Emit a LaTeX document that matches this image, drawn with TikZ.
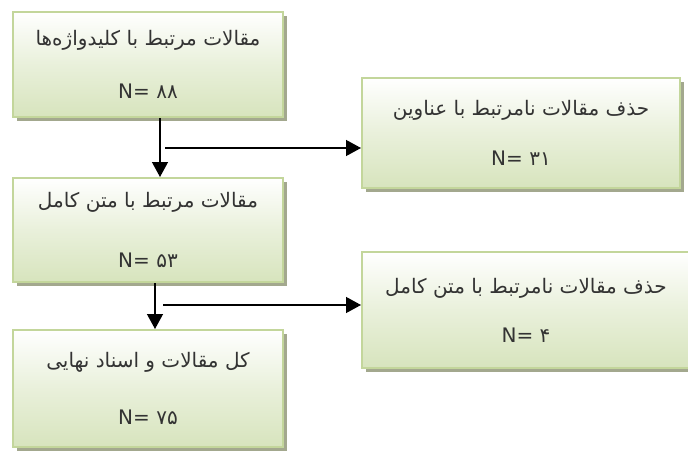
\documentclass[tikz,border=0pt]{standalone}
\usepackage{fontspec}
\usetikzlibrary{shadows,arrows.meta,calc}
\setmainfont{DejaVu Sans}
\newfontfamily\arabicfont[Script=Arabic]{DejaVu Sans}
\TeXXeTstate=1
\definecolor{boxline}{HTML}{C3D69B}
\definecolor{boxfill}{HTML}{D7E4BD}
\definecolor{boxshadow}{HTML}{A3A88E}
\definecolor{boxtext}{HTML}{333333}
\tikzset{
block/.style = {draw=boxline, line width=2pt, rectangle, top color=white, bottom color=boxfill, middle color=boxfill!55, drop shadow={shadow xshift=4pt, shadow yshift=-4pt, fill=boxshadow, opacity=1}, text=boxtext, align=center, font=\arabicfont\fontsize{20}{24}\selectfont},
tmp/.style  = {coordinate},
link/.style = {->, line width=1.3pt}
}

\begin{document}
\begin{tikzpicture}[x=1pt, y=1pt, >={Triangle[length=15pt,width=16pt]}]
		\useasboundingbox (0,0) rectangle (688,451);
		\node [block, minimum width=270, minimum height=105] (keywords) at (148,386.5) {\beginR مقالات مرتبط با کلیدواژه‌ها\endR\\[29pt]N= ۸۸};
		\node [block, minimum width=318, minimum height=110] (titles) at (521,318) {\beginR حذف مقالات نامرتبط با عناوین\endR\\[26pt]N= ۳۱};
		\node [block, minimum width=270, minimum height=104] (fulltext) at (148,221) {\beginR مقالات مرتبط با متن کامل\endR\\[36pt]N= ۵۳};
		\node [block, minimum width=328, minimum height=116] (dropped) at (526,141) {\beginR حذف مقالات نامرتبط با متن کامل\endR\\[25pt]N= ۴};
		\node [block, minimum width=270, minimum height=117] (final) at (148,62.5) {\beginR کل مقالات و اسناد نهایی\endR\\[33pt]N= ۷۵};

		\coordinate [tmp] (split1) at (165,303);
		\coordinate [tmp] (split2) at (163,146);

		\draw [link] ([xshift=12pt]keywords.south) -- ([xshift=12pt]fulltext.north);
		\draw [link] (split1) -- (split1 -| titles.west);
		\draw [link] ([xshift=7pt]fulltext.south) -- ([xshift=7pt]final.north);
		\draw [link] (split2) -- (split2 -| dropped.west);
\end{tikzpicture}
\end{document}
